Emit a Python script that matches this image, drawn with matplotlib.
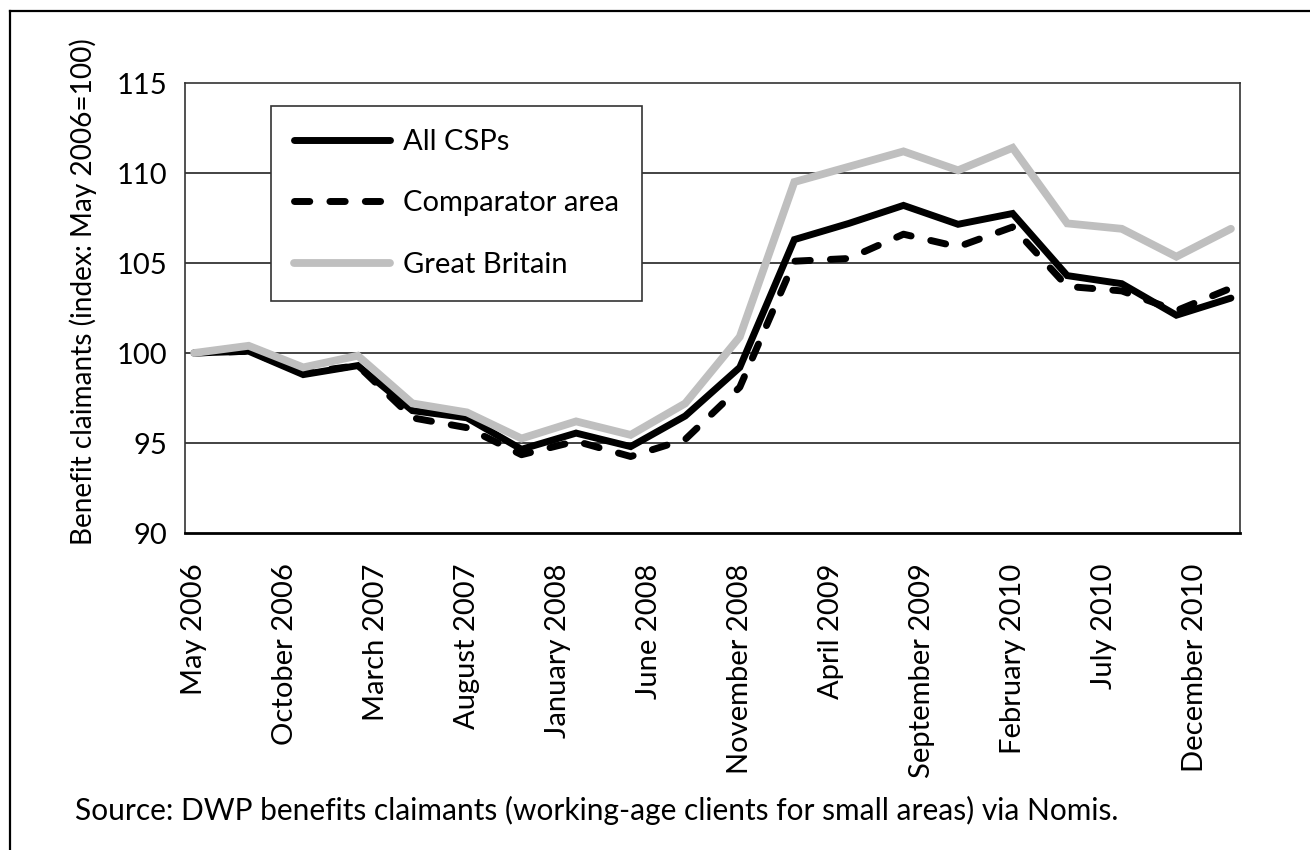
import matplotlib
matplotlib.use("Agg")
import matplotlib.pyplot as plt
from matplotlib.lines import Line2D

plt.rcParams['font.family'] = ['Lato', 'DejaVu Sans']
plt.rcParams['lines.scale_dashes'] = False

# ---- data ----
months = list(range(0, 58, 3))  # May 2006 .. Feb 2011, quarterly (month index)
all_csps = [100.0, 100.1, 98.8, 99.3, 96.8, 96.4, 94.65, 95.55, 94.8, 96.5,
            99.2, 106.3, 107.2, 108.2, 107.15, 107.75, 104.3, 103.85, 102.1, 103.05]
comparator = [100.0, 100.1, 98.9, 99.3, 96.4, 95.85, 94.35, 95.1, 94.25, 95.2,
              98.1, 105.1, 105.25, 106.6, 105.9, 107.0, 103.7, 103.45, 102.35, 103.6]
great_britain = [100.0, 100.4, 99.2, 99.85, 97.2, 96.7, 95.25, 96.2, 95.45, 97.2,
                 100.9, 109.5, 110.35, 111.2, 110.15, 111.4, 107.2, 106.9, 105.35, 106.9]
tick_months = list(range(0, 58, 5))
tick_labels = ["May 2006", "October 2006", "March 2007", "August 2007", "January 2008",
               "June 2008", "November 2008", "April 2009", "September 2009",
               "February 2010", "July 2010", "December 2010"]
y_ticks = [90, 95, 100, 105, 110, 115]
series_names = ["All CSPs", "Comparator area", "Great Britain"]

W, H = 1310, 850
fig = plt.figure(figsize=(W / 100, H / 100), dpi=100)
ax = fig.add_axes([185 / W, 1 - 533 / H, (1240 - 185) / W, (533 - 83) / H])

ax.plot(months, all_csps, color='black', lw=5.0, solid_capstyle='round',
        solid_joinstyle='miter', label=series_names[0], zorder=3)
ax.plot(months, comparator, color='black', lw=5.0, dashes=(11.0, 14.5),
        dash_capstyle='round', label=series_names[1], zorder=2)
ax.plot(months, great_britain, color='#bfbfbf', lw=5.6, solid_capstyle='round',
        solid_joinstyle='miter', label=series_names[2], zorder=4)

ax.set_xlim(-0.5, 57.5)
ax.set_ylim(90, 115)
ax.set_yticks(y_ticks)
ax.set_xticks(tick_months)
ax.set_xticklabels(tick_labels, rotation=90, va='top', ha='center')
ax.tick_params(axis='both', length=0, labelsize=21, colors='black')
ax.tick_params(axis='y', pad=13)
ax.tick_params(axis='x', pad=22)

for v in [95, 100, 105, 110]:
    ax.axhline(v, color='#222222', lw=1.2, zorder=1)

for s in ['top', 'right', 'left']:
    ax.spines[s].set_color('#333333')
    ax.spines[s].set_linewidth(1.2)
ax.spines['bottom'].set_color('black')
ax.spines['bottom'].set_linewidth(2.0)

leg = ax.legend(loc='upper left', bbox_to_anchor=((271 - 185) / 1055, 1 - (106 - 83) / 450),
                fontsize=21, frameon=True, fancybox=False, framealpha=1,
                edgecolor='#333333', handlelength=3.3, handletextpad=0.45,
                labelspacing=1.22, borderpad=0.78, borderaxespad=0)
leg.get_frame().set_linewidth(1.2)
for h in leg.get_lines():
    h.set_solid_capstyle('round')

fig.text(83 / W, 1 - 292 / H, "Benefit claimants (index: May 2006=100)", rotation=90,
         ha='center', va='center', fontsize=20.2)
fig.text(75 / W, 1 - 810 / H,
         "Source: DWP benefits claimants (working-age clients for small areas) via Nomis.",
         ha='left', va='center', fontsize=21.5)

fig.add_artist(Line2D([10 / W, 10 / W], [0, 1 - 11 / H], transform=fig.transFigure,
                      color='black', lw=1.6))
fig.add_artist(Line2D([10 / W, 1], [1 - 11 / H, 1 - 11 / H], transform=fig.transFigure,
                      color='black', lw=1.6))

fig.savefig("out.png", dpi=100)
